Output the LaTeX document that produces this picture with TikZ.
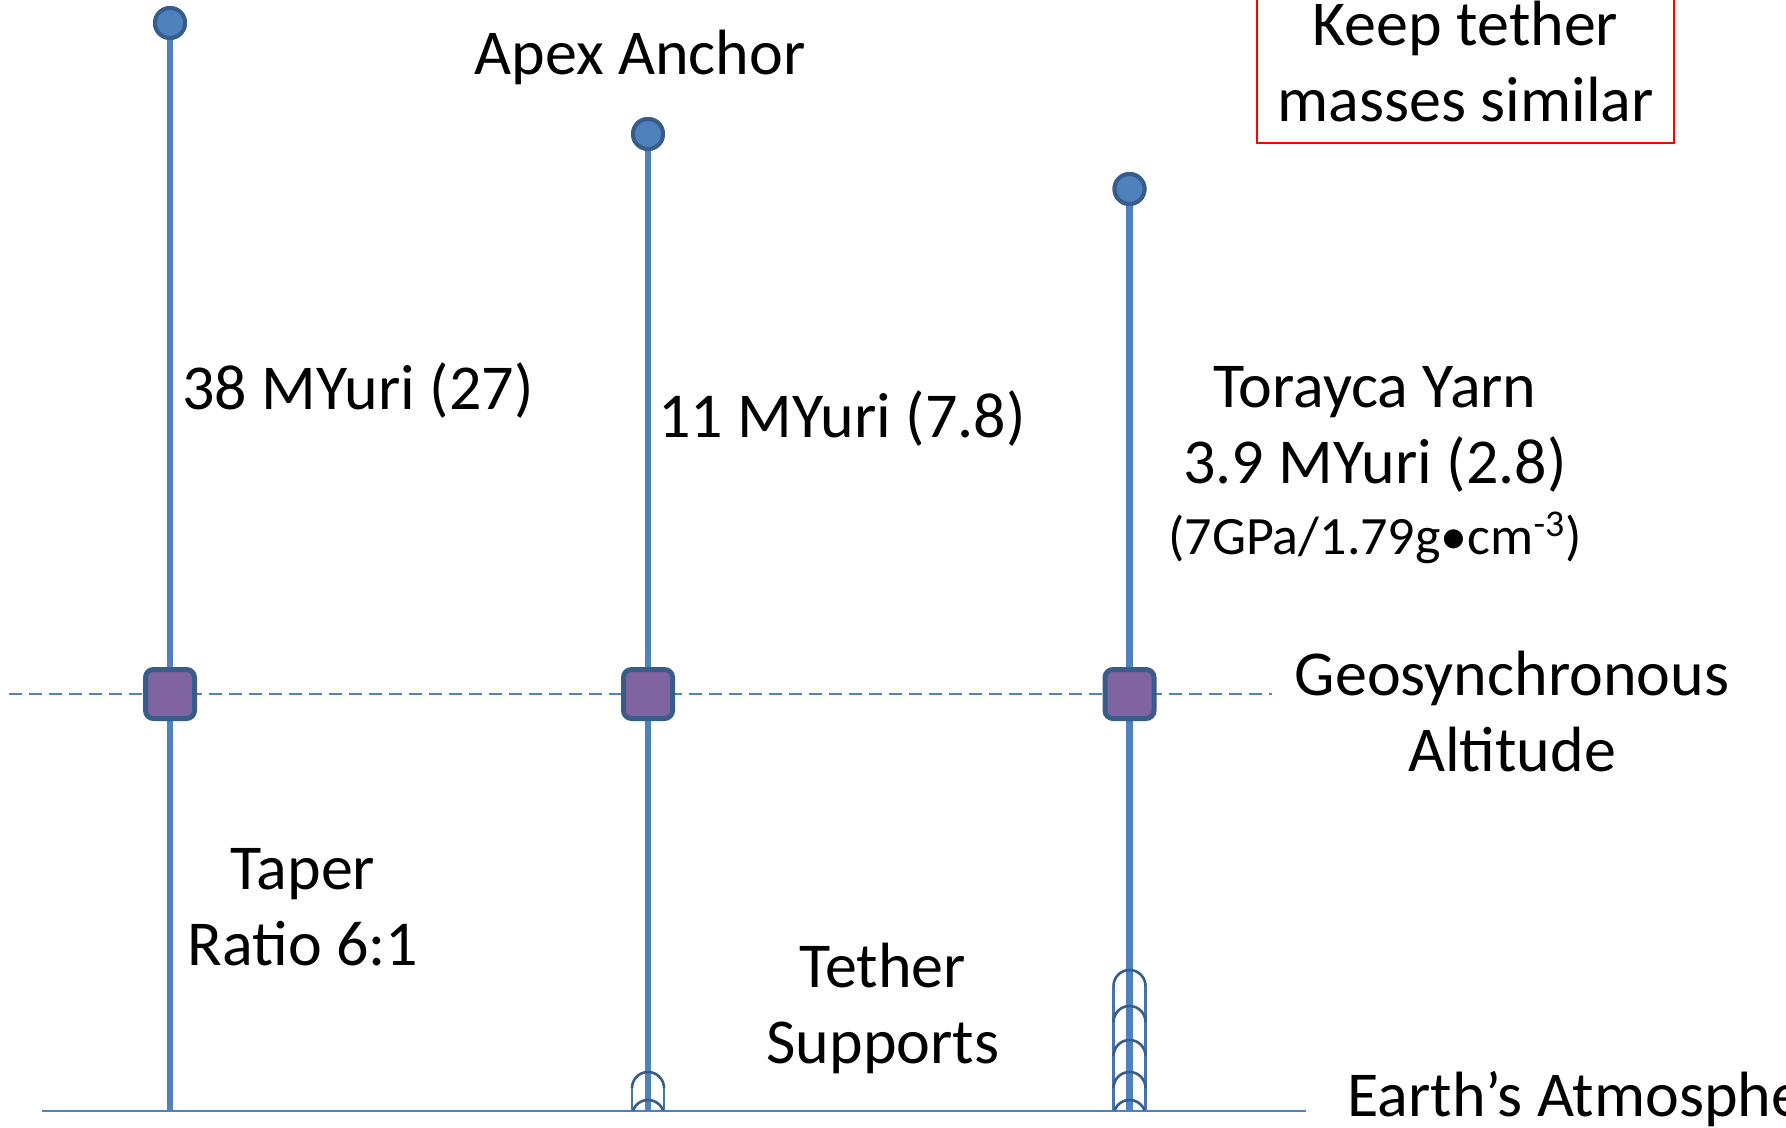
\documentclass[tikz,border=0pt]{standalone}
\usepackage{fontspec}
\setmainfont{Carlito}
\definecolor{tblue}{HTML}{4F81BD}
\definecolor{dblue}{HTML}{385D8A}
\definecolor{tpurple}{HTML}{8064A2}
\begin{document}
\begin{tikzpicture}[x=0.5pt,y=-0.5pt,
  tether/.style={tblue, line width=3.3pt},
  anchorball/.style={circle, fill=tblue, draw=dblue, line width=2pt, minimum size=15pt, inner sep=0},
  geobox/.style={rectangle, rounded corners=4pt, fill=tpurple, draw=dblue, line width=2.5pt, minimum size=24.5pt, inner sep=0},
  lbl/.style={font=\fontsize{32}{38}\selectfont, align=center, inner sep=0},
  smalllbl/.style={font=\fontsize{27}{32}\selectfont, inner sep=0},
  archline/.style={dblue, line width=1.3pt},
  support/.style={tblue!90!black, line width=1.3pt}]
\useasboundingbox (0,0) rectangle (1786,1128);
\clip (0,0) rectangle (1786,1128);
% reference lines
\coordinate (dashL) at (9,694);
\coordinate (dashR) at (1272,694);
\coordinate (gndL) at (42,1110.5);
\coordinate (gndR) at (1306,1110.5);
\draw[tblue, line width=0.8pt, dash pattern=on 6.5pt off 3.5pt] (dashL) -- (dashR);
\draw[tblue, line width=1pt] (gndL) -- (gndR);
% ground points
\coordinate (g1) at (170,1110);
\coordinate (g2) at (648,1110);
\coordinate (g3) at (1129.5,1110);
% anchors
\node[anchorball] (top1) at (170,23) {};
\node[anchorball] (top2) at (648,134) {};
\node[anchorball] (top3) at (1129.5,189) {};
% tethers
\draw[tether] (top1) -- (g1);
\draw[tether] (top2) -- (g2);
\draw[tether] (top3) -- (g3);
\node[anchorball] at (top1) {};
\node[anchorball] at (top2) {};
\node[anchorball] at (top3) {};
% geosynchronous boxes
\node[geobox] (geo1) at (170,694) {};
\node[geobox] (geo2) at (648,694) {};
\node[geobox] (geo3) at (1129.5,694) {};
% supports tether 2
\draw[support] (632,1088) -- (632,1110) (664,1088) -- (664,1110);
\draw[archline] (632,1088) arc[start angle=180,end angle=0,radius=8pt];
\draw[archline] (633,1110.5) arc[start angle=160,end angle=20,radius=8pt];
% supports tether 3
\draw[support] (1113.5,986) -- (1113.5,1110) (1145.5,986) -- (1145.5,1110);
\foreach \c in {986,1022,1056,1088}
  \draw[archline] (1113.5,\c) arc[start angle=180,end angle=0,radius=8pt];
\draw[archline] (1114.5,1110.5) arc[start angle=160,end angle=20,radius=8pt];
% labels
\node[lbl] (apex) at (640,57) {Apex Anchor};
\node[lbl, anchor=west] (m1) at (182,391) {38 MYuri (27)};
\node[lbl, anchor=west] (m2) at (658,419) {11 MYuri (7.8)};
\node[lbl] (tor) at (1375,429) {Torayca Yarn\\3.9 MYuri (2.8)};
\node[smalllbl] (spec) at (1375,538) {(7GPa/1.79g•cm\textsuperscript{-3})};
\node[lbl] (geoLbl) at (1512,712) {Geosynchronous\\Altitude};
\node[lbl] (taper) at (303,907) {Taper\\Ratio 6:1};
\node[lbl] (supp) at (883,1008) {Tether\\Supports};
\node[lbl, anchor=west] (atm) at (1347,1099) {Earth’s Atmosphere};
\node[lbl, draw=red, line width=1pt, minimum width=208.5pt, minimum height=81pt] (keep) at (1465.5,62) {Keep tether\\masses similar};
\end{tikzpicture}
\end{document}
